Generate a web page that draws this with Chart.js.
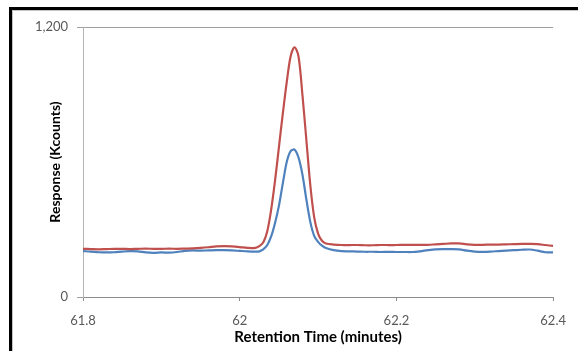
<!DOCTYPE html>
<html>
<head>
	<meta charset="UTF-8">
	<title>retention</title>
	<script src="https://cdn.jsdelivr.net/npm/chart.js"></script>
	<style>
	html, body {margin:0; padding:0; overflow:hidden; background:#fff;}
	#frame {position:absolute; left:9px; top:7px; width:1000px; height:1000px; border:3px solid #000;}
	#frame div {width:100%; height:100%; border:1px solid #c4c4c4;}
	#wrap {position:absolute; left:0; top:0; width:578px; height:351px;}
	</style>
</head>
<body>
	<div id="frame"><div></div></div>
	<div id="wrap">
	  <canvas id="myChart" width="578" height="351"></canvas>
	</div>
	<script>
	// retention time (minutes)
	var times = [61.80, 61.81, 61.82, 61.83, 61.84, 61.85, 61.86, 61.87, 61.88, 61.89,
		61.90, 61.91, 61.92, 61.93, 61.94, 61.95, 61.96, 61.97, 61.98, 61.99,
		62.00, 62.01, 62.02,
		62.025, 62.03, 62.035, 62.04, 62.045, 62.05, 62.055, 62.06, 62.065, 62.07,
		62.075, 62.08, 62.085, 62.09, 62.095, 62.10, 62.105,
		62.11, 62.12, 62.13,
		62.14, 62.15, 62.16, 62.17, 62.18, 62.19, 62.20, 62.21, 62.22, 62.23,
		62.24, 62.25, 62.26, 62.27, 62.28, 62.29, 62.30, 62.31, 62.32, 62.33,
		62.34, 62.35, 62.36, 62.37, 62.38, 62.39, 62.40];
	// response (Kcounts)
	var redSeries = [214, 213, 212, 213, 214, 214, 213, 214, 215, 214,
		214, 215, 214, 215, 216, 218, 221, 225, 226, 225,
		222, 218, 218,
		226, 242, 290, 385, 515, 665, 815, 955, 1070, 1110,
		1070, 900, 700, 500, 355, 282, 250,
		238, 233, 231,
		231, 231, 230, 230, 231, 231, 231, 232, 232, 232,
		232, 234, 236, 238, 238, 234, 232, 232, 233, 233,
		234, 235, 236, 236, 235, 231, 227];
	var blueSeries = [204, 202, 199, 198, 199, 202, 204, 203, 198, 196,
		198, 197, 200, 205, 207, 206, 207, 208, 208, 207,
		205, 203, 202,
		203, 212, 230, 268, 328, 405, 505, 600, 648, 655,
		620, 545, 435, 335, 272, 245, 228,
		218, 208, 204,
		203, 202, 201, 201, 200, 201, 200, 200, 200, 203,
		208, 212, 213, 213, 212, 206, 202, 201, 202, 204,
		206, 208, 210, 211, 206, 199, 198];
	var xTicks = [61.8, 62.4, 0.2]; // min, max, step
	var yTicks = [0, 1200, 1200];

	function pts(ys){
		var out = [];
		for (var i = 0; i < times.length; i++) out.push({x: times[i], y: ys[i]});
		return out;
	}

	var ctx = document.getElementById('myChart');
	new Chart(ctx, {
		type: 'line',
		data: {
			datasets: [{
				label: 'A',
				data: pts(redSeries),
				borderColor: '#c0504d',
				borderWidth: 2.2,
				pointRadius: 0,
				tension: 0.3
			}, {
				label: 'B',
				data: pts(blueSeries),
				borderColor: '#4f81bd',
				borderWidth: 2.2,
				pointRadius: 0,
				tension: 0.3
			}]
		},
		options: {
			responsive: false,
			animation: false,
			layout: {padding: {left: 0, right: 23, top: 27, bottom: 0}},
			plugins: {legend: {display: false}, tooltip: {enabled: false}},
			scales: {
				x: {
					type: 'linear',
					min: xTicks[0], max: xTicks[1],
					afterFit: function(s){ s.height = 54; },
					ticks: {
						stepSize: xTicks[2],
						padding: 12,
						color: '#595959',
						font: {family: 'Lato', size: 13},
						maxRotation: 0,
						callback: function(v){ return String(Math.round(v * 10) / 10); }
					},
					grid: {drawOnChartArea: false, tickLength: 4, color: '#8c8c8c'},
					border: {color: '#8c8c8c'},
					title: {
						display: true,
						text: 'Retention Time (minutes)',
						color: '#000',
						font: {family: 'Lato', size: 15, weight: 'bold'},
						padding: {top: 0, bottom: 5}
					}
				},
				y: {
					min: yTicks[0], max: yTicks[1],
					afterFit: function(s){ s.width = 83; },
					ticks: {
						stepSize: yTicks[2],
						padding: 9,
						color: '#595959',
						font: {family: 'Lato', size: 13}
					},
					grid: {color: '#a0a0a0', tickLength: 6},
					border: {color: '#b4b4b4'},
					title: {
						display: true,
						text: 'Response (Kcounts)',
						color: '#000',
						font: {family: 'Lato', size: 14, weight: 'bold'},
						padding: {top: 47, bottom: 0}
					}
				}
			}
		}
	});
	</script>
</body>
</html>
